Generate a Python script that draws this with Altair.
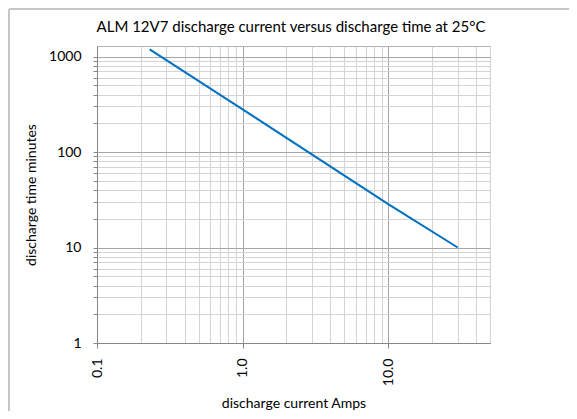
import altair as alt
import pandas as pd

# data
current_amps = [0.23, 1.0, 10.0, 30.0]
time_minutes = [1190, 280, 28.5, 10]

x_grid = [0.1, 0.2, 0.3, 0.4, 0.5, 0.6, 0.7, 0.8, 0.9,
          1, 2, 3, 4, 5, 6, 7, 8, 9,
          10, 20, 30, 40, 50]
y_grid = [1, 2, 3, 4, 5, 6, 7, 8, 9,
          10, 20, 30, 40, 50, 60, 70, 80, 90,
          100, 200, 300, 400, 500, 600, 700, 800, 900, 1000]

chart_title = "ALM 12V7 discharge current versus discharge time at 25°C"

df = pd.DataFrame({"current": current_amps, "minutes": time_minutes})

FONT = "Lato"
x_major_test = "indexof([0.1, 1, 10], datum.value) >= 0"
y_major_test = "indexof([1, 10, 100, 1000], datum.value) >= 0"

line = alt.Chart(df).mark_line(color="#0070C0", strokeWidth=2).encode(
    x=alt.X("current:Q",
            scale=alt.Scale(type="log", domain=[0.1, 50], nice=False),
            axis=alt.Axis(values=x_grid, title="discharge current Amps",
                          labelExpr=f"{x_major_test} ? format(datum.value, '.1f') : ''",
                          labelAngle=-90, labelAlign="right", labelBaseline="middle",
                          labelOverlap=False, labelPadding=10,
                          tickSize=alt.condition(x_major_test, alt.value(5), alt.value(0)),
                          gridColor=alt.condition(x_major_test, alt.value("#a6a6a6"), alt.value("#d4d4d4")),
                          titlePadding=11)),
    y=alt.Y("minutes:Q",
            scale=alt.Scale(type="log", domain=[1, 1290], nice=False),
            axis=alt.Axis(values=y_grid, title="discharge time minutes",
                          labelExpr=f"{y_major_test} ? format(datum.value, 'd') : ''",
                          labelOverlap=False, labelPadding=12, tickSize=4,
                          gridColor=alt.condition(y_major_test, alt.value("#a6a6a6"), alt.value("#d4d4d4")),
                          titlePadding=10)),
)

frame_df = pd.DataFrame({"k": [0]})
frame_left = alt.Chart(frame_df).mark_rule(color="#c6c6c6", strokeWidth=2).encode(
    x=alt.value(-88), y=alt.value(-37), y2=alt.value(400))
frame_top = alt.Chart(frame_df).mark_rule(color="#c6c6c6", strokeWidth=2).encode(
    x=alt.value(-88), x2=alt.value(500), y=alt.value(-37))
title_text = alt.Chart(frame_df).mark_text(
    text=chart_title, font=FONT, fontSize=15, color="#000000",
    align="center", baseline="alphabetic").encode(
    x=alt.value(194), y=alt.value(-14))

chart = alt.layer(frame_left, frame_top, title_text, line).properties(
    width=393, height=297,
    padding={"left": 89, "top": 38, "right": 79, "bottom": 68},
    autosize=alt.AutoSizeParams(type="none"),
    background="white",
).configure_axis(
    labelFont=FONT, labelFontSize=14, labelColor="#000000",
    titleFont=FONT, titleFontSize=14, titleFontWeight="normal", titleColor="#000000",
    domainColor="#868686", tickColor="#868686", gridOpacity=1,
).configure_view(stroke="#b4b4b4")

chart.save("out.html", embed_options={"renderer": "svg", "actions": False})
